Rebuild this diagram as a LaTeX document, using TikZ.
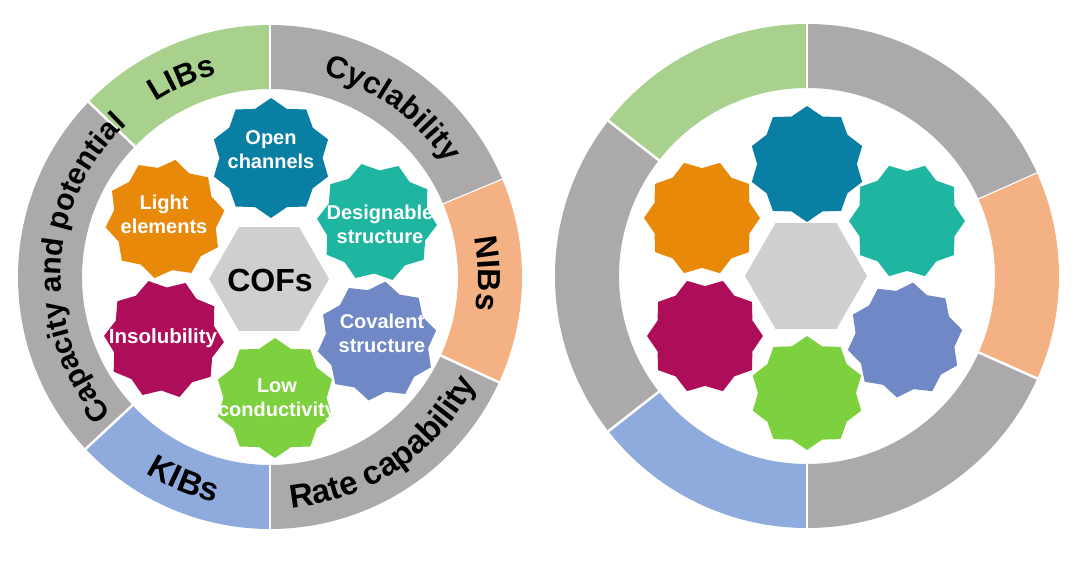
\documentclass[tikz,border=0pt]{standalone}
\usepackage{fontspec}
\setmainfont{Liberation Sans}
\usetikzlibrary{calc,decorations.text}
\definecolor{ringgray}{RGB}{172,169,170}
\definecolor{libgreen}{RGB}{169,209,142}
\definecolor{niborange}{RGB}{244,177,131}
\definecolor{kibblue}{RGB}{143,170,220}
\definecolor{cOpen}{RGB}{10,127,164}
\definecolor{cLight}{RGB}{232,137,9}
\definecolor{cDesign}{RGB}{30,182,160}
\definecolor{cInsol}{RGB}{174,13,90}
\definecolor{cCoval}{RGB}{113,136,198}
\definecolor{cLow}{RGB}{125,208,62}
\definecolor{cHex}{RGB}{207,207,209}
\newcommand\ringfont[1]{\bfseries\fontsize{#1pt}{#1pt}\selectfont}
\newcommand\starfont{\bfseries\fontsize{20pt}{24pt}\selectfont}
\newcommand\coffont{\bfseries\fontsize{32pt}{34pt}\selectfont}
\def\Rout{252}
\def\Rin{188}
% annular sector: center, a1, a2, colour
\newcommand\ringsector[4]{%
  \fill[#4] ($(#1)+(#2:\Rout)$) arc[start angle=#2, end angle=#3, radius=\Rout]
    -- ($(#1)+(#3:\Rin)$) arc[start angle=#3, end angle=#2, radius=\Rin] -- cycle;
  \draw[divider] ($(#1)+(#2:\Rin-4)$) -- ($(#1)+(#2:\Rout+4)$);}
% ten-point star: center, R, rotation, colour
\newcommand\tenstar[4]{%
  \fill[#4] ($(#1)+({#3+90}:#2)$)
    \foreach \k in {1,...,19}{ -- ($(#1)+({#3+90+18*\k}:{mod(\k,2)==1 ? #2*0.86 : #2})$) } -- cycle;}
% hexagon: center, R
\newcommand\hexa[2]{%
  \fill[cHex] ($(#1)+(0:#2)$) -- ($(#1)+(60:#2)$) -- ($(#1)+(120:#2)$) -- ($(#1)+(180:#2)$)
    -- ($(#1)+(240:#2)$) -- ($(#1)+(300:#2)$) -- cycle;}
\tikzset{
  divider/.style={white, line width=2.5pt},
  startext/.style={text=white, font=\starfont, align=center, inner sep=0pt},
  coftext/.style={text=black, font=\coffont, inner sep=0pt},
}
\begin{document}
\begin{tikzpicture}[x=1pt,y=1pt]
\useasboundingbox (0,0) rectangle (1080,565);
\fill[white] (0,0) rectangle (1080,565);
\coordinate (CL) at (270,288);
\coordinate (CR) at (807,289);

% ---------- left ring ----------
\ringsector{CL}{22.7}{90}{ringgray}
\ringsector{CL}{90}{136}{libgreen}
\ringsector{CL}{136}{223}{ringgray}
\ringsector{CL}{223}{270}{kibblue}
\ringsector{CL}{270}{335.3}{ringgray}
\ringsector{CL}{-24.7}{22.7}{niborange}

% ring labels
\path[decorate, decoration={text along path, text align=center, text={|\ringfont{31}|Cyclability}}]
  ($(CL)+(114:209)$) arc[start angle=114, end angle=-6, radius=209];
\path[decorate, decoration={text along path, text align=center, text={|\ringfont{31}|LIBs}}]
  ($(CL)+(174:209)$) arc[start angle=174, end angle=54, radius=209];
\path[decorate, decoration={text along path, text align=center, text={|\ringfont{30}|Capacity and potential}}]
  ($(CL)+(267:209)$) arc[start angle=267, end angle=87, radius=209];
\path[decorate, decoration={text along path, text align=center, text={|\ringfont{32}|NIBs}}]
  ($(CL)+(61:208)$) arc[start angle=61, end angle=-59, radius=208];
\path[decorate, decoration={text along path, text align=center, text={|\ringfont{33}|KIBs}}]
  ($(CL)+(187:232)$) arc[start angle=187, end angle=307, radius=232];
\path[decorate, decoration={text along path, text align=center, text={|\ringfont{33}|Rate capability}}]
  ($(CL)+(234:232)$) arc[start angle=234, end angle=374, radius=232];

% stars and hexagon
\coordinate (L1) at (271,407);
\coordinate (L2) at (165,346);
\coordinate (L3) at (377,343);
\coordinate (L4) at (164,226);
\coordinate (L5) at (377,224);
\coordinate (L6) at (275,167);
\coordinate (LH) at (269,286);
\tenstar{L1}{60}{0}{cOpen}
\tenstar{L2}{60}{-10}{cLight}
\tenstar{L3}{60}{15}{cDesign}
\tenstar{L4}{60}{15}{cInsol}
\tenstar{L5}{60}{-8}{cCoval}
\tenstar{L6}{60}{0}{cLow}
\hexa{LH}{60}
\node[startext] (tOpen) at (271,415) {Open\\channels};
\node[startext] (tLight) at (164,351) {Light\\elements};
\node[startext] (tDesign) at (380,341) {Designable\\structure};
\node[startext, font=\bfseries\fontsize{20.5pt}{24pt}\selectfont] (tInsol) at (163,227) {Insolubility};
\node[startext] (tCoval) at (382,232) {Covalent\\structure};
\node[startext] (tLow) at (277,165) {Low\\conductivity};
\node[coftext] (tCOF) at (270,285) {COFs};

% ---------- right ring ----------
\ringsector{CR}{24}{90}{ringgray}
\ringsector{CR}{90}{142}{libgreen}
\ringsector{CR}{142}{218}{ringgray}
\ringsector{CR}{218}{270}{kibblue}
\ringsector{CR}{270}{336}{ringgray}
\ringsector{CR}{-24}{24}{niborange}

\coordinate (R1) at (807,401);
\coordinate (R2) at (702,347);
\coordinate (R3) at (907,344);
\coordinate (R4) at (705,229);
\coordinate (R5) at (905,225);
\coordinate (R6) at (807,172);
\coordinate (RH) at (806,289);
\tenstar{R1}{58}{0}{cOpen}
\tenstar{R2}{58}{-18}{cLight}
\tenstar{R3}{58}{18}{cDesign}
\tenstar{R4}{58}{18}{cInsol}
\tenstar{R5}{58}{-8}{cCoval}
\tenstar{R6}{57}{0}{cLow}
\hexa{RH}{61}
\end{tikzpicture}
\end{document}
